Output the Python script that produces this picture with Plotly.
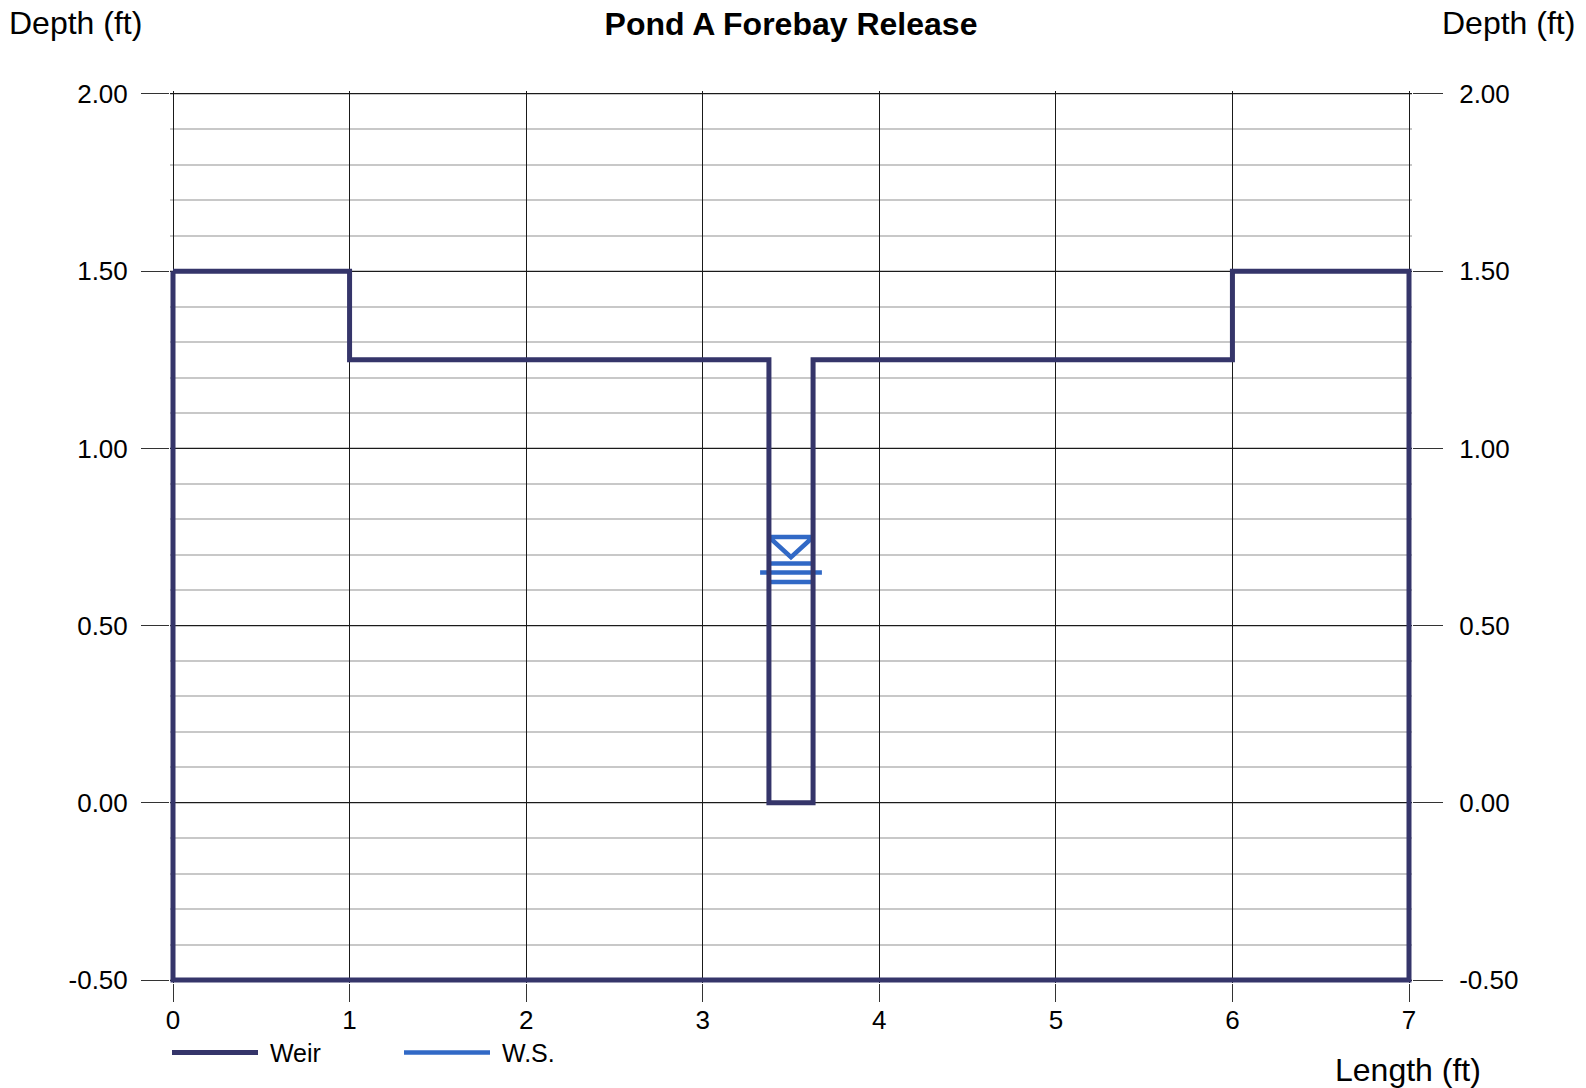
import plotly.graph_objects as go

# ---------------- data ----------------
weir_x = [0, 1, 1, 3.375, 3.375, 3.625, 3.625, 6, 6, 7, 7, 0, 0]
weir_y = [1.5, 1.5, 1.25, 1.25, 0.0, 0.0, 1.25, 1.25, 1.5, 1.5, -0.5, -0.5, 1.5]

ws_depth = 0.65          # water surface depth (ft)
notch_left = 3.375
notch_right = 3.625

x_tick_vals = [0, 1, 2, 3, 4, 5, 6, 7]
x_tick_text = ["0", "1", "2", "3", "4", "5", "6", "7"]
y_tick_vals = [-0.5, 0.0, 0.5, 1.0, 1.5, 2.0]
y_tick_text = ["-0.50", "0.00", "0.50", "1.00", "1.50", "2.00"]

# ---------------- layout geometry ----------------
W, H = 1586, 1088
L, T = 170, 91
R = W - 1412
B = H - 985
plot_w = W - L - R
plot_h = H - T - B
x_min, x_max = 0, 7
y_min, y_max = -0.5, 2.0
pad_px = 3
x_pad = (x_max - x_min) * pad_px / (plot_w - 2 * pad_px)
y_pad = (y_max - y_min) * pad_px / (plot_h - 2 * pad_px)
xr = [x_min - x_pad, x_max + x_pad]
yr = [y_min - y_pad, y_max + y_pad]

def px_x(p):   # page pixel -> paper
    return (p - L) / plot_w

def px_y(p):
    return (H - B - p) / plot_h

# ---------------- W.S. glyph ----------------
cx = (notch_left + notch_right) / 2
half = (notch_right - notch_left) / 2
tri_top, tri_tip, bar_hi, bar_lo, long_half = 0.10, 0.043, 0.025, -0.027, 0.175
ws_x = [cx - half, cx + half, cx, cx - half, None,
        cx - half, cx + half, None,
        cx - long_half, cx + long_half, None,
        cx - half, cx + half]
ws_y = [ws_depth + tri_top, ws_depth + tri_top, ws_depth + tri_tip, ws_depth + tri_top, None,
        ws_depth + bar_hi, ws_depth + bar_hi, None,
        ws_depth, ws_depth, None,
        ws_depth + bar_lo, ws_depth + bar_lo]

WEIR_COLOR = "#35356a"
WS_COLOR = "#3169c6"
FONT = "Liberation Sans, Arial, sans-serif"

fig = go.Figure()
fig.add_trace(go.Scatter(x=ws_x, y=ws_y, mode="lines", name="\u00a0W.S.",
                         line=dict(color=WS_COLOR, width=4.5), legendrank=2,
                         hoverinfo="skip"))
fig.add_trace(go.Scatter(x=weir_x, y=weir_y, mode="lines", name="\u00a0Weir",
                         line=dict(color=WEIR_COLOR, width=5), legendrank=1))
fig.add_trace(go.Scatter(x=[None], y=[None], yaxis="y2", showlegend=False,
                         hoverinfo="skip"))

tickfont = dict(family=FONT, size=26, color="#000000")

fig.update_layout(
    width=W, height=H,
    margin=dict(l=L, r=R, t=T, b=B),
    paper_bgcolor="white", plot_bgcolor="white",
    font=dict(family=FONT, color="#000000"),
    title=dict(text="<b>Pond A Forebay Release</b>", xref="paper", x=0.5,
               xanchor="center", yref="container", y=1 - 24 / H, yanchor="middle",
               font=dict(family=FONT, size=32, color="#000000")),
    xaxis=dict(range=xr, tickmode="array", tickvals=x_tick_vals, ticktext=x_tick_text,
               ticks="outside", ticklen=18, tickwidth=1, tickcolor="#333333",
               showgrid=True, gridcolor="#1a1a1a", gridwidth=1,
               zeroline=False, showline=False, tickfont=tickfont,
               ticklabelstandoff=-4, fixedrange=True),
    yaxis=dict(range=yr, tickmode="array", tickvals=y_tick_vals, ticktext=y_tick_text,
               ticks="outside", ticklen=28, tickwidth=1, tickcolor="#333333",
               showgrid=True, gridcolor="#1a1a1a", gridwidth=1,
               zeroline=False, showline=False, tickfont=tickfont,
               ticklabelstandoff=8,
               minor=dict(tick0=-0.5, dtick=0.1, showgrid=True, gridcolor="#c8c8c8",
                          gridwidth=2, ticks=""),
               fixedrange=True),
    yaxis2=dict(range=yr, overlaying="y", side="right", tickmode="array",
                tickvals=y_tick_vals, ticktext=y_tick_text,
                ticks="outside", ticklen=30, tickwidth=1, tickcolor="#333333",
                showgrid=False, zeroline=False, showline=False, tickfont=tickfont,
                ticklabelstandoff=11, fixedrange=True),
    legend=dict(orientation="h", x=px_x(167), xanchor="left", y=px_y(1055),
                yanchor="middle", font=dict(family=FONT, size=25, color="#000000"),
                itemwidth=86, entrywidth=131, bgcolor="rgba(0,0,0,0)",
                traceorder="normal"),
    showlegend=True,
    annotations=[
        dict(text="Depth (ft)", xref="paper", yref="paper", x=px_x(7), y=px_y(23),
             xanchor="left", yanchor="middle", showarrow=False,
             font=dict(family=FONT, size=32, color="#000000")),
        dict(text="Depth (ft)", xref="paper", yref="paper", x=px_x(1577), y=px_y(23),
             xanchor="right", yanchor="middle", showarrow=False,
             font=dict(family=FONT, size=32, color="#000000")),
        dict(text="Length (ft)", xref="paper", yref="paper", x=px_x(1408), y=px_y(1072),
             xanchor="center", yanchor="middle", showarrow=False,
             font=dict(family=FONT, size=32, color="#000000")),
    ],
)

fig.write_html("out.html", config={"displayModeBar": False},
               post_script="document.body.style.margin='0px';")
